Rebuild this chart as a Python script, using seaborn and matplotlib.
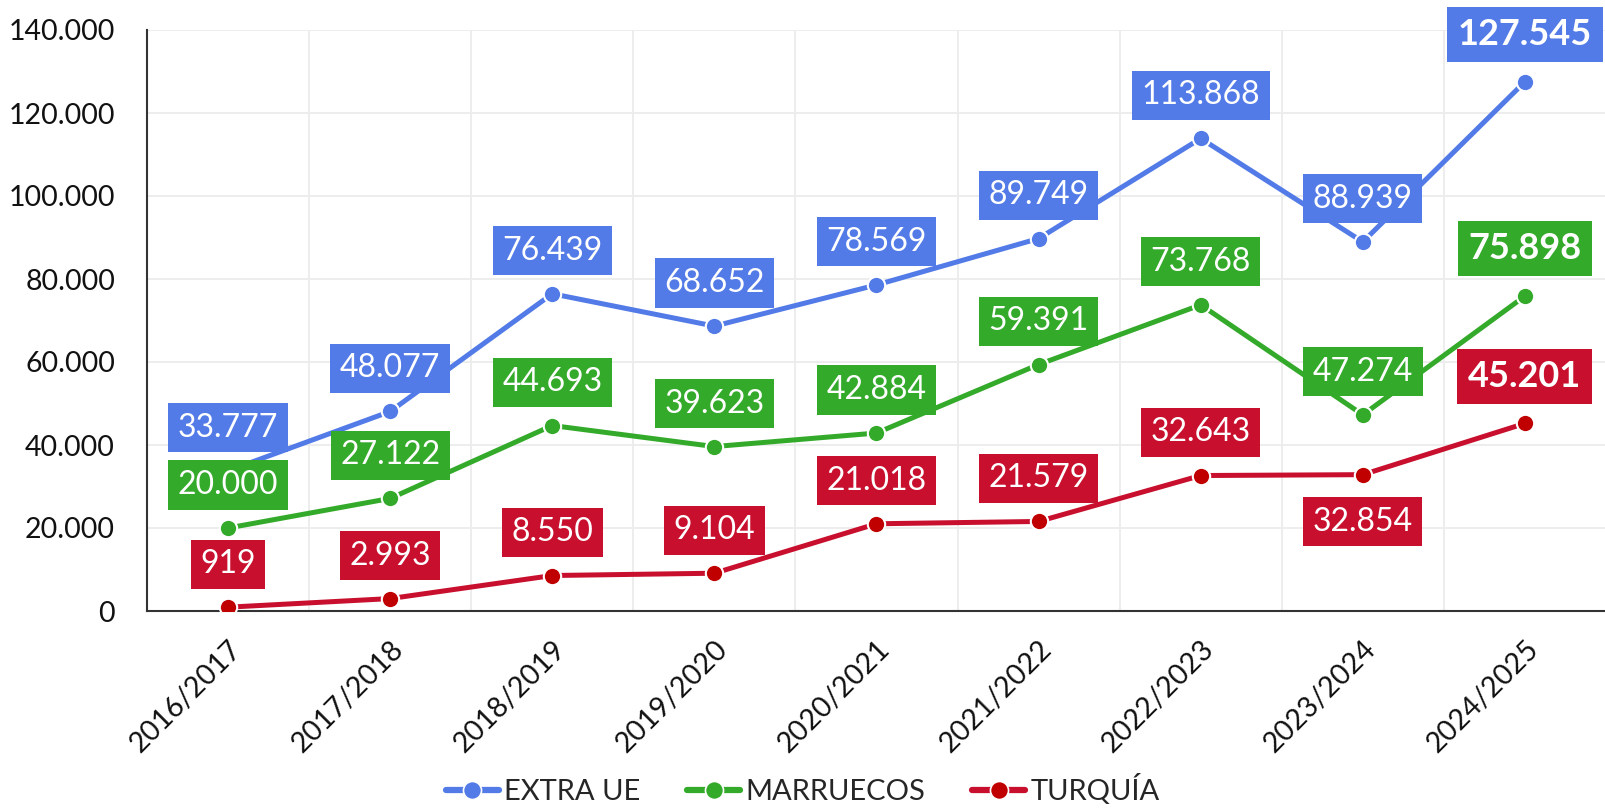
import matplotlib
matplotlib.use("Agg")
import matplotlib.pyplot as plt
from matplotlib.lines import Line2D
import seaborn as sns
import pandas as pd

campaigns = ["2016/2017", "2017/2018", "2018/2019", "2019/2020", "2020/2021",
             "2021/2022", "2022/2023", "2023/2024", "2024/2025"]
extra_ue = [33777, 48077, 76439, 68652, 78569, 89749, 113868, 88939, 127545]
marruecos = [20000, 27122, 44693, 39623, 42884, 59391, 73768, 47274, 75898]
turquia = [919, 2993, 8550, 9104, 21018, 21579, 32643, 32854, 45201]
series_names = ["EXTRA UE", "MARRUECOS", "TURQUÍA"]
series_values = [extra_ue, marruecos, turquia]
line_colors = ["#537be8", "#34aa2b", "#c8102e"]
marker_colors = ["#537be8", "#34aa2b", "#c00000"]
y_ticks = [0, 20000, 40000, 60000, 80000, 100000, 120000, 140000]
labels_below = {("TURQUÍA", 7)}


def fmt(v):
    return f"{v:,}".replace(",", ".")


sns.set_theme(style="white")
plt.rcParams["font.family"] = ["Lato", "DejaVu Sans"]

fig = plt.figure(figsize=(16.06, 8.11), dpi=100)
ax = fig.add_axes([147 / 1606, 1 - 611 / 811, 1 - 147 / 1606, (611 - 30) / 811])

rows = []
for name, vals in zip(series_names, series_values):
    for i, v in enumerate(vals):
        rows.append({"serie": name, "x": i, "value": v})
df = pd.DataFrame(rows)

for k, name in enumerate(series_names):
    sub = df[df["serie"] == name]
    sns.lineplot(data=sub, x="x", y="value", color=line_colors[k], marker="o",
                 markersize=12.5, linewidth=3.6, markeredgecolor="white",
                 markeredgewidth=1.5, ax=ax, legend=False, zorder=3)
    ax.lines[-1].set_markerfacecolor(marker_colors[k])

# data labels
for k, name in enumerate(series_names):
    vals = series_values[k]
    for i, v in enumerate(vals):
        last = i == len(vals) - 1
        below = (name, i) in labels_below
        dy = -34 if below else (34 if last else 31)
        ax.annotate(fmt(v), (i, v), xytext=(0, dy), textcoords="offset points",
                    ha="center", va="center", color="white",
                    fontsize=26 if last else 23,
                    fontweight="bold" if last else "normal",
                    bbox=dict(boxstyle="square,pad=0.3", fc=line_colors[k], ec="none"),
                    zorder=5, annotation_clip=False)

ax.set_xlim(-0.5, 8.5)
ax.set_ylim(0, 140000)
ax.set_yticks(y_ticks)
ax.set_yticklabels([fmt(t) for t in y_ticks])
ax.set_xticks(range(len(campaigns)))
ax.set_xticklabels(campaigns, rotation=45, ha="right", rotation_mode="anchor")
ax.set_xticks([i - 0.5 for i in range(len(campaigns) + 1)], minor=True)
ax.tick_params(axis="x", which="major", length=0, pad=18, labelsize=20.5, colors="#111111")
ax.tick_params(axis="x", which="minor", length=13, width=1.5, direction="inout", color="#333333")
ax.tick_params(axis="y", which="major", length=0, pad=23, labelsize=20.5, colors="#111111")
ax.set_xlabel("")
ax.set_ylabel("")

ax.grid(True, axis="y", which="major", color="#ececec", linewidth=1.3)
ax.grid(True, axis="x", which="minor", color="#ececec", linewidth=1.3)
ax.grid(False, axis="x", which="major")
ax.set_axisbelow(True)

for s in ["top", "right"]:
    ax.spines[s].set_visible(False)
for s in ["left", "bottom"]:
    ax.spines[s].set_color("#333333")
    ax.spines[s].set_linewidth(1.5)
    ax.spines[s].set_zorder(2.5)

handles = [Line2D([], [], color=line_colors[k], lw=4.5, marker="o", markersize=13,
                  markerfacecolor=marker_colors[k], markeredgecolor="white",
                  markeredgewidth=1.2, solid_capstyle="round")
           for k in range(3)]
fig.legend(handles, series_names, loc="center", bbox_to_anchor=(0.5, 0.026), ncol=3,
           frameon=False, fontsize=21, handlelength=1.8, handletextpad=0.2,
           columnspacing=1.6, borderpad=0)

fig.savefig("out.png", dpi=100)
